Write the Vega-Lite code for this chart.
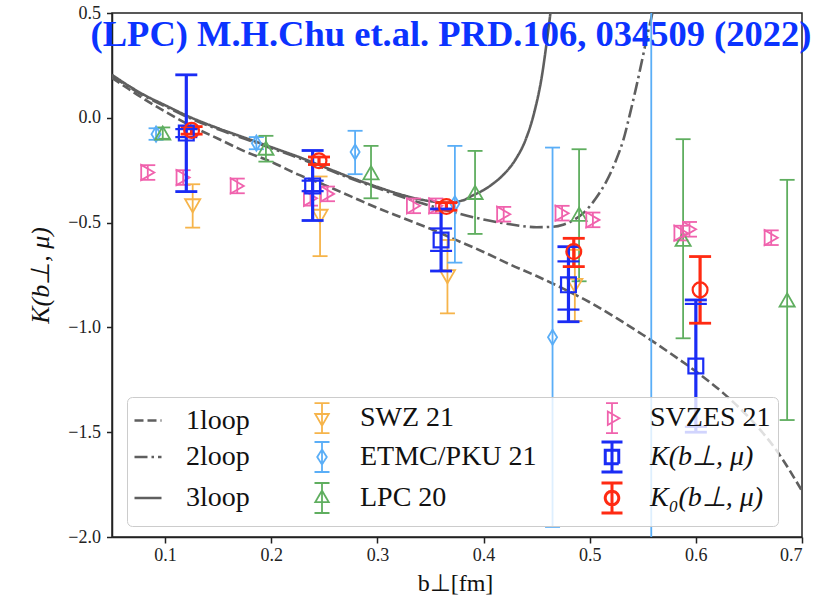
{
  "$schema": "https://vega.github.io/schema/vega-lite/v6.json",
  "width": 690,
  "height": 524,
  "autosize": {"type": "none"},
  "padding": {"left": 112, "top": 13, "right": 23, "bottom": 66},
  "background": "white",
  "title": {
    "text": "(LPC) M.H.Chu et.al. PRD.106, 034509 (2022)",
    "font": "Liberation Serif",
    "fontSize": 36.5,
    "fontWeight": "bold",
    "color": "#0b33ff",
    "anchor": "middle",
    "frame": "group",
    "baseline": "alphabetic",
    "offset": 0,
    "dy": 78,
    "dx": -6
  },
  "config": {
    "view": {"stroke": "#222222", "strokeWidth": 1.5},
    "axis": {
      "grid": false,
      "domainColor": "#222222",
      "domainWidth": 1.5,
      "tickColor": "#222222",
      "tickWidth": 1.5,
      "tickSize": 6,
      "labelFont": "Liberation Serif",
      "labelFontSize": 18,
      "labelColor": "#222222",
      "titleFont": "Liberation Serif",
      "titleFontWeight": "normal",
      "titleColor": "#111111"
    }
  },
  "datasets": {
    "curves": [
      {"series": "1loop", "b": 0.05, "K": 0.19},
      {"series": "1loop", "b": 0.065, "K": 0.14},
      {"series": "1loop", "b": 0.08, "K": 0.09},
      {"series": "1loop", "b": 0.1, "K": 0.03},
      {"series": "1loop", "b": 0.125, "K": -0.04},
      {"series": "1loop", "b": 0.15, "K": -0.1},
      {"series": "1loop", "b": 0.175, "K": -0.16},
      {"series": "1loop", "b": 0.2, "K": -0.21},
      {"series": "1loop", "b": 0.225, "K": -0.27},
      {"series": "1loop", "b": 0.25, "K": -0.32},
      {"series": "1loop", "b": 0.275, "K": -0.375},
      {"series": "1loop", "b": 0.3, "K": -0.43},
      {"series": "1loop", "b": 0.325, "K": -0.48},
      {"series": "1loop", "b": 0.35, "K": -0.53},
      {"series": "1loop", "b": 0.375, "K": -0.585},
      {"series": "1loop", "b": 0.4, "K": -0.64},
      {"series": "1loop", "b": 0.425, "K": -0.7},
      {"series": "1loop", "b": 0.45, "K": -0.755},
      {"series": "1loop", "b": 0.475, "K": -0.815},
      {"series": "1loop", "b": 0.5, "K": -0.88},
      {"series": "1loop", "b": 0.525, "K": -0.955},
      {"series": "1loop", "b": 0.55, "K": -1.035},
      {"series": "1loop", "b": 0.575, "K": -1.12},
      {"series": "1loop", "b": 0.6, "K": -1.21},
      {"series": "1loop", "b": 0.625, "K": -1.31},
      {"series": "1loop", "b": 0.65, "K": -1.43},
      {"series": "1loop", "b": 0.675, "K": -1.58},
      {"series": "1loop", "b": 0.7, "K": -1.78},

      {"series": "2loop", "b": 0.05, "K": 0.2},
      {"series": "2loop", "b": 0.065, "K": 0.15},
      {"series": "2loop", "b": 0.08, "K": 0.105},
      {"series": "2loop", "b": 0.1, "K": 0.055},
      {"series": "2loop", "b": 0.125, "K": -0.005},
      {"series": "2loop", "b": 0.15, "K": -0.055},
      {"series": "2loop", "b": 0.175, "K": -0.1},
      {"series": "2loop", "b": 0.2, "K": -0.145},
      {"series": "2loop", "b": 0.225, "K": -0.19},
      {"series": "2loop", "b": 0.25, "K": -0.24},
      {"series": "2loop", "b": 0.275, "K": -0.29},
      {"series": "2loop", "b": 0.3, "K": -0.335},
      {"series": "2loop", "b": 0.325, "K": -0.38},
      {"series": "2loop", "b": 0.35, "K": -0.42},
      {"series": "2loop", "b": 0.375, "K": -0.455},
      {"series": "2loop", "b": 0.4, "K": -0.485},
      {"series": "2loop", "b": 0.425, "K": -0.508},
      {"series": "2loop", "b": 0.45, "K": -0.522},
      {"series": "2loop", "b": 0.465, "K": -0.52},
      {"series": "2loop", "b": 0.475, "K": -0.51},
      {"series": "2loop", "b": 0.485, "K": -0.488},
      {"series": "2loop", "b": 0.495, "K": -0.45},
      {"series": "2loop", "b": 0.505, "K": -0.39},
      {"series": "2loop", "b": 0.515, "K": -0.31},
      {"series": "2loop", "b": 0.525, "K": -0.2},
      {"series": "2loop", "b": 0.532, "K": -0.1},
      {"series": "2loop", "b": 0.538, "K": 0.02},
      {"series": "2loop", "b": 0.544, "K": 0.15},
      {"series": "2loop", "b": 0.55, "K": 0.29},
      {"series": "2loop", "b": 0.555, "K": 0.41},
      {"series": "2loop", "b": 0.559, "K": 0.5},
      {"series": "2loop", "b": 0.562, "K": 0.6},

      {"series": "3loop", "b": 0.05, "K": 0.205},
      {"series": "3loop", "b": 0.065, "K": 0.155},
      {"series": "3loop", "b": 0.08, "K": 0.11},
      {"series": "3loop", "b": 0.1, "K": 0.06},
      {"series": "3loop", "b": 0.125, "K": 0.0},
      {"series": "3loop", "b": 0.15, "K": -0.05},
      {"series": "3loop", "b": 0.175, "K": -0.095},
      {"series": "3loop", "b": 0.2, "K": -0.14},
      {"series": "3loop", "b": 0.225, "K": -0.185},
      {"series": "3loop", "b": 0.25, "K": -0.235},
      {"series": "3loop", "b": 0.275, "K": -0.285},
      {"series": "3loop", "b": 0.3, "K": -0.33},
      {"series": "3loop", "b": 0.325, "K": -0.37},
      {"series": "3loop", "b": 0.35, "K": -0.398},
      {"series": "3loop", "b": 0.365, "K": -0.405},
      {"series": "3loop", "b": 0.38, "K": -0.395},
      {"series": "3loop", "b": 0.39, "K": -0.37},
      {"series": "3loop", "b": 0.4, "K": -0.345},
      {"series": "3loop", "b": 0.41, "K": -0.31},
      {"series": "3loop", "b": 0.42, "K": -0.265},
      {"series": "3loop", "b": 0.43, "K": -0.2},
      {"series": "3loop", "b": 0.44, "K": -0.1},
      {"series": "3loop", "b": 0.448, "K": 0.03},
      {"series": "3loop", "b": 0.455, "K": 0.2},
      {"series": "3loop", "b": 0.46, "K": 0.38},
      {"series": "3loop", "b": 0.463, "K": 0.5},
      {"series": "3loop", "b": 0.466, "K": 0.65}
    ],
    "points": [
      {"series": "SWZ 21", "b": 0.126, "K": -0.42, "lo": -0.524, "hi": -0.317},
      {"series": "SWZ 21", "b": 0.246, "K": -0.47, "lo": -0.66, "hi": -0.28},
      {"series": "SWZ 21", "b": 0.366, "K": -0.758, "lo": -0.933, "hi": -0.583},
      {"series": "SWZ 21", "b": 0.486, "K": -0.8, "lo": -0.97, "hi": -0.63},

      {"series": "ETMC/PKU 21", "b": 0.0915, "K": -0.078, "lo": -0.105, "hi": -0.05},
      {"series": "ETMC/PKU 21", "b": 0.186, "K": -0.121, "lo": -0.15, "hi": -0.092},
      {"series": "ETMC/PKU 21", "b": 0.279, "K": -0.163, "lo": -0.269, "hi": -0.062},
      {"series": "ETMC/PKU 21", "b": 0.373, "K": -0.41, "lo": -0.691, "hi": -0.134},
      {"series": "ETMC/PKU 21", "b": 0.465, "K": -1.047, "lo": -1.952, "hi": -0.142},
      {"series": "ETMC/PKU 21", "b": 0.558, "K": 0.75, "lo": -2.6, "hi": 4.0},

      {"series": "LPC 20", "b": 0.0978, "K": -0.073, "lo": -0.1, "hi": -0.046},
      {"series": "LPC 20", "b": 0.195, "K": -0.145, "lo": -0.209, "hi": -0.086},
      {"series": "LPC 20", "b": 0.294, "K": -0.262, "lo": -0.384, "hi": -0.134},
      {"series": "LPC 20", "b": 0.392, "K": -0.356, "lo": -0.554, "hi": -0.158},
      {"series": "LPC 20", "b": 0.49, "K": -0.46, "lo": -0.78, "hi": -0.15},
      {"series": "LPC 20", "b": 0.588, "K": -0.58, "lo": -1.052, "hi": -0.102},
      {"series": "LPC 20", "b": 0.686, "K": -0.869, "lo": -1.442, "hi": -0.296},

      {"series": "SVZES 21", "b": 0.0837, "K": -0.261, "lo": -0.296, "hi": -0.226},
      {"series": "SVZES 21", "b": 0.117, "K": -0.285, "lo": -0.32, "hi": -0.25},
      {"series": "SVZES 21", "b": 0.168, "K": -0.325, "lo": -0.36, "hi": -0.29},
      {"series": "SVZES 21", "b": 0.237, "K": -0.384, "lo": -0.419, "hi": -0.349},
      {"series": "SVZES 21", "b": 0.253, "K": -0.363, "lo": -0.398, "hi": -0.328},
      {"series": "SVZES 21", "b": 0.334, "K": -0.42, "lo": -0.455, "hi": -0.385},
      {"series": "SVZES 21", "b": 0.355, "K": -0.42, "lo": -0.455, "hi": -0.385},
      {"series": "SVZES 21", "b": 0.419, "K": -0.46, "lo": -0.495, "hi": -0.425},
      {"series": "SVZES 21", "b": 0.474, "K": -0.455, "lo": -0.49, "hi": -0.42},
      {"series": "SVZES 21", "b": 0.503, "K": -0.487, "lo": -0.522, "hi": -0.452},
      {"series": "SVZES 21", "b": 0.586, "K": -0.55, "lo": -0.585, "hi": -0.515},
      {"series": "SVZES 21", "b": 0.594, "K": -0.532, "lo": -0.567, "hi": -0.497},
      {"series": "SVZES 21", "b": 0.671, "K": -0.572, "lo": -0.607, "hi": -0.537},

      {"series": "K(b⊥, μ)", "b": 0.12, "K": -0.073, "lo": -0.352, "hi": 0.205, "lo2": -0.092, "hi2": -0.054},
      {"series": "K(b⊥, μ)", "b": 0.239, "K": -0.325, "lo": -0.49, "hi": -0.156, "lo2": -0.35, "hi2": -0.3},
      {"series": "K(b⊥, μ)", "b": 0.36, "K": -0.583, "lo": -0.731, "hi": -0.435, "lo2": -0.635, "hi2": -0.528},
      {"series": "K(b⊥, μ)", "b": 0.48, "K": -0.797, "lo": -0.973, "hi": -0.615, "lo2": -0.915, "hi2": -0.685},
      {"series": "K(b⊥, μ)", "b": 0.6, "K": -1.184, "lo": -1.5, "hi": -0.869, "lo2": -1.474, "hi2": -0.888},

      {"series": "K₀(b⊥, μ)", "b": 0.125, "K": -0.06, "lo": -0.078, "hi": -0.042},
      {"series": "K₀(b⊥, μ)", "b": 0.245, "K": -0.205, "lo": -0.223, "hi": -0.187},
      {"series": "K₀(b⊥, μ)", "b": 0.365, "K": -0.423, "lo": -0.441, "hi": -0.405},
      {"series": "K₀(b⊥, μ)", "b": 0.485, "K": -0.638, "lo": -0.71, "hi": -0.575},
      {"series": "K₀(b⊥, μ)", "b": 0.604, "K": -0.821, "lo": -0.98, "hi": -0.662}
    ]
  },
  "encoding": {
    "x": {
      "field": "b",
      "type": "quantitative",
      "scale": {"domain": [0.05, 0.7], "nice": false, "zero": false},
      "axis": {
        "values": [0.1, 0.2, 0.3, 0.4, 0.5, 0.6, 0.7],
        "format": ".1f",
        "labelPadding": 3,
        "title": "b⊥[fm]",
        "titleFontSize": 24,
        "titleX": 343,
        "titleY": 46,
        "titleBaseline": "middle",
        "titleAlign": "center"
      }
    },
    "color": {
      "field": "series",
      "type": "nominal",
      "scale": {
        "domain": ["1loop", "2loop", "3loop", "SWZ 21", "ETMC/PKU 21", "LPC 20", "SVZES 21", "K(b⊥, μ)", "K₀(b⊥, μ)"],
        "range": ["#5f5f5f", "#5f5f5f", "#5f5f5f", "#f6b44a", "#5aaef7", "#5fae5f", "#f062ad", "#1a2cf5", "#ff2a12"]
      },
      "legend": {
        "title": null,
        "orient": "none",
        "legendX": 15,
        "legendY": 384,
        "columns": 3,
        "columnPadding": 58,
        "rowPadding": -1,
        "padding": 7,
        "fillColor": "rgba(255,255,255,0.8)",
        "strokeColor": "#cccccc",
        "cornerRadius": 5,
        "symbolSize": 900,
        "labelOffset": 24,
        "labelFont": "Liberation Serif",
        "labelFontSize": 28,
        "labelColor": "#111111",
        "labelLimit": 300,
        "encode": {
          "symbols": {
            "update": {
              "size": {"value": 900},
              "fill": {"value": "transparent"},
              "opacity": {"value": 1},
              "shape": {"signal": "indexof(['1loop','2loop','3loop'], datum.value) >= 0 ? 'M-0.9,0H0.9' : datum.value === 'SWZ 21' ? 'M-0.45,-0.28H0.45L0,0.5Z M0,-1V1 M-0.5,-1H0.5 M-0.5,1H0.5' : datum.value === 'ETMC/PKU 21' ? 'M0,-0.5L0.32,0L0,0.5L-0.32,0Z M0,-1V1 M-0.5,-1H0.5 M-0.5,1H0.5' : datum.value === 'LPC 20' ? 'M-0.45,0.28H0.45L0,-0.5Z M0,-1V1 M-0.5,-1H0.5 M-0.5,1H0.5' : datum.value === 'SVZES 21' ? 'M-0.28,-0.45V0.45L0.5,0Z M0,-1V1 M-0.4,-1H0.4 M-0.4,1H0.4' : datum.value === 'K(b⊥, μ)' ? 'M-0.45,-0.45H0.45V0.45H-0.45Z M0,-1V1 M-0.7,-1H0.7 M-0.7,1H0.7' : 'M0.45,0A0.45,0.45,0,1,1,-0.45,0A0.45,0.45,0,1,1,0.45,0Z M0,-1V1 M-0.7,-1H0.7 M-0.7,1H0.7'"},
              "strokeDash": {"signal": "datum.value === '1loop' ? [9, 4] : datum.value === '2loop' ? [13, 4, 2.5, 4] : [1, 0]"},
              "strokeWidth": {"signal": "indexof(['1loop','2loop','3loop'], datum.value) >= 0 ? 2.6 : (datum.value === 'K(b⊥, μ)' || datum.value === 'K₀(b⊥, μ)') ? 3 : 1.8"}
            }
          },
          "labels": {
            "update": {
              "font": {"value": "Liberation Serif"},
              "fontSize": {"value": 28},
              "fontStyle": {"signal": "indexof(datum.label, 'K') === 0 ? 'italic' : 'normal'"}
            }
          }
        }
      }
    },
    "shape": {
      "field": "series",
      "type": "nominal",
      "scale": {
        "domain": ["SWZ 21", "ETMC/PKU 21", "LPC 20", "SVZES 21", "K(b⊥, μ)", "K₀(b⊥, μ)"],
        "range": ["triangle-down", "M0,-1L0.6,0L0,1L-0.6,0Z", "triangle-up", "triangle-right", "square", "circle"]
      },
      "legend": null
    }
  },
  "layer": [
    {
      "data": {"name": "curves"},
      "mark": {"type": "line", "clip": true, "strokeWidth": 2.6, "interpolate": "monotone"},
      "encoding": {
        "shape": null,
        "y": {"field": "K", "type": "quantitative", "scale": {"domain": [-2, 0.5], "nice": false, "zero": false},
          "axis": {"values": [-2, -1.5, -1, -0.5, 0, 0.5], "format": ".1f", "tickSize": 5.5, "labelPadding": 6, "title": "K(b⊥, μ)", "titleFontSize": 26, "titleFontStyle": "italic", "titleAngle": 270, "titleX": -72, "titleY": 262, "titleAlign": "center", "titleBaseline": "middle"}},
        "strokeDash": {
          "field": "series",
          "type": "nominal",
          "scale": {"domain": ["1loop", "2loop", "3loop"], "range": [[9, 4], [13, 4, 2.5, 4], [1, 0]]},
          "legend": null
        }
      }
    },
    {
      "data": {"name": "points"},
      "transform": [{"filter": {"not": {"field": "series", "oneOf": ["K(b⊥, μ)", "K₀(b⊥, μ)"]}}}],
      "layer": [
        {
          "mark": {"type": "rule", "clip": true, "strokeWidth": 1.8},
          "encoding": {
            "shape": null,
            "y": {"field": "lo", "type": "quantitative", "scale": {"domain": [-2, 0.5], "nice": false, "zero": false},
              "axis": {"values": [-2, -1.5, -1, -0.5, 0, 0.5], "format": ".1f", "tickSize": 5.5, "labelPadding": 6, "title": "K(b⊥, μ)", "titleFontSize": 26, "titleFontStyle": "italic", "titleAngle": 270, "titleX": -72, "titleY": 262, "titleAlign": "center", "titleBaseline": "middle"}},
            "y2": {"field": "hi"}
          }
        },
        {
          "mark": {"type": "point", "clip": true, "shape": "stroke", "size": 225, "strokeWidth": 1.8, "filled": false, "opacity": 1},
          "encoding": {
            "shape": null,
            "y": {"field": "lo", "type": "quantitative", "scale": {"domain": [-2, 0.5], "nice": false, "zero": false},
              "axis": {"values": [-2, -1.5, -1, -0.5, 0, 0.5], "format": ".1f", "tickSize": 5.5, "labelPadding": 6, "title": "K(b⊥, μ)", "titleFontSize": 26, "titleFontStyle": "italic", "titleAngle": 270, "titleX": -72, "titleY": 262, "titleAlign": "center", "titleBaseline": "middle"}}
          }
        },
        {
          "mark": {"type": "point", "clip": true, "shape": "stroke", "size": 225, "strokeWidth": 1.8, "filled": false, "opacity": 1},
          "encoding": {
            "shape": null,
            "y": {"field": "hi", "type": "quantitative", "scale": {"domain": [-2, 0.5], "nice": false, "zero": false},
              "axis": {"values": [-2, -1.5, -1, -0.5, 0, 0.5], "format": ".1f", "tickSize": 5.5, "labelPadding": 6, "title": "K(b⊥, μ)", "titleFontSize": 26, "titleFontStyle": "italic", "titleAngle": 270, "titleX": -72, "titleY": 262, "titleAlign": "center", "titleBaseline": "middle"}}
          }
        },
        {
          "mark": {"type": "point", "clip": true, "size": 230, "strokeWidth": 1.8, "filled": false, "opacity": 1},
          "encoding": {
            "y": {"field": "K", "type": "quantitative", "scale": {"domain": [-2, 0.5], "nice": false, "zero": false},
              "axis": {"values": [-2, -1.5, -1, -0.5, 0, 0.5], "format": ".1f", "tickSize": 5.5, "labelPadding": 6, "title": "K(b⊥, μ)", "titleFontSize": 26, "titleFontStyle": "italic", "titleAngle": 270, "titleX": -72, "titleY": 262, "titleAlign": "center", "titleBaseline": "middle"}}
          }
        }
      ]
    },
    {
      "data": {"name": "points"},
      "transform": [{"filter": {"field": "series", "oneOf": ["K(b⊥, μ)", "K₀(b⊥, μ)"]}}],
      "layer": [
        {
          "mark": {"type": "rule", "clip": true, "strokeWidth": 3.2},
          "encoding": {
            "shape": null,
            "y": {"field": "lo", "type": "quantitative", "scale": {"domain": [-2, 0.5], "nice": false, "zero": false},
              "axis": {"values": [-2, -1.5, -1, -0.5, 0, 0.5], "format": ".1f", "tickSize": 5.5, "labelPadding": 6, "title": "K(b⊥, μ)", "titleFontSize": 26, "titleFontStyle": "italic", "titleAngle": 270, "titleX": -72, "titleY": 262, "titleAlign": "center", "titleBaseline": "middle"}},
            "y2": {"field": "hi"}
          }
        },
        {
          "mark": {"type": "point", "clip": true, "shape": "stroke", "size": 484, "strokeWidth": 2.8, "filled": false, "opacity": 1},
          "encoding": {
            "shape": null,
            "y": {"field": "lo", "type": "quantitative", "scale": {"domain": [-2, 0.5], "nice": false, "zero": false},
              "axis": {"values": [-2, -1.5, -1, -0.5, 0, 0.5], "format": ".1f", "tickSize": 5.5, "labelPadding": 6, "title": "K(b⊥, μ)", "titleFontSize": 26, "titleFontStyle": "italic", "titleAngle": 270, "titleX": -72, "titleY": 262, "titleAlign": "center", "titleBaseline": "middle"}}
          }
        },
        {
          "mark": {"type": "point", "clip": true, "shape": "stroke", "size": 484, "strokeWidth": 2.8, "filled": false, "opacity": 1},
          "encoding": {
            "shape": null,
            "y": {"field": "hi", "type": "quantitative", "scale": {"domain": [-2, 0.5], "nice": false, "zero": false},
              "axis": {"values": [-2, -1.5, -1, -0.5, 0, 0.5], "format": ".1f", "tickSize": 5.5, "labelPadding": 6, "title": "K(b⊥, μ)", "titleFontSize": 26, "titleFontStyle": "italic", "titleAngle": 270, "titleX": -72, "titleY": 262, "titleAlign": "center", "titleBaseline": "middle"}}
          }
        },
        {
          "transform": [{"filter": "isValid(datum.lo2)"}],
          "mark": {"type": "point", "clip": true, "shape": "stroke", "size": 484, "strokeWidth": 2.2, "filled": false, "opacity": 1},
          "encoding": {
            "shape": null,
            "y": {"field": "lo2", "type": "quantitative", "scale": {"domain": [-2, 0.5], "nice": false, "zero": false},
              "axis": {"values": [-2, -1.5, -1, -0.5, 0, 0.5], "format": ".1f", "tickSize": 5.5, "labelPadding": 6, "title": "K(b⊥, μ)", "titleFontSize": 26, "titleFontStyle": "italic", "titleAngle": 270, "titleX": -72, "titleY": 262, "titleAlign": "center", "titleBaseline": "middle"}}
          }
        },
        {
          "transform": [{"filter": "isValid(datum.hi2)"}],
          "mark": {"type": "point", "clip": true, "shape": "stroke", "size": 484, "strokeWidth": 2.2, "filled": false, "opacity": 1},
          "encoding": {
            "shape": null,
            "y": {"field": "hi2", "type": "quantitative", "scale": {"domain": [-2, 0.5], "nice": false, "zero": false},
              "axis": {"values": [-2, -1.5, -1, -0.5, 0, 0.5], "format": ".1f", "tickSize": 5.5, "labelPadding": 6, "title": "K(b⊥, μ)", "titleFontSize": 26, "titleFontStyle": "italic", "titleAngle": 270, "titleX": -72, "titleY": 262, "titleAlign": "center", "titleBaseline": "middle"}}
          }
        },
        {
          "mark": {"type": "point", "clip": true, "size": 220, "strokeWidth": 2.2, "filled": false, "opacity": 1},
          "encoding": {
            "y": {"field": "K", "type": "quantitative", "scale": {"domain": [-2, 0.5], "nice": false, "zero": false},
              "axis": {"values": [-2, -1.5, -1, -0.5, 0, 0.5], "format": ".1f", "tickSize": 5.5, "labelPadding": 6, "title": "K(b⊥, μ)", "titleFontSize": 26, "titleFontStyle": "italic", "titleAngle": 270, "titleX": -72, "titleY": 262, "titleAlign": "center", "titleBaseline": "middle"}}
          }
        }
      ]
    }
  ]
}
